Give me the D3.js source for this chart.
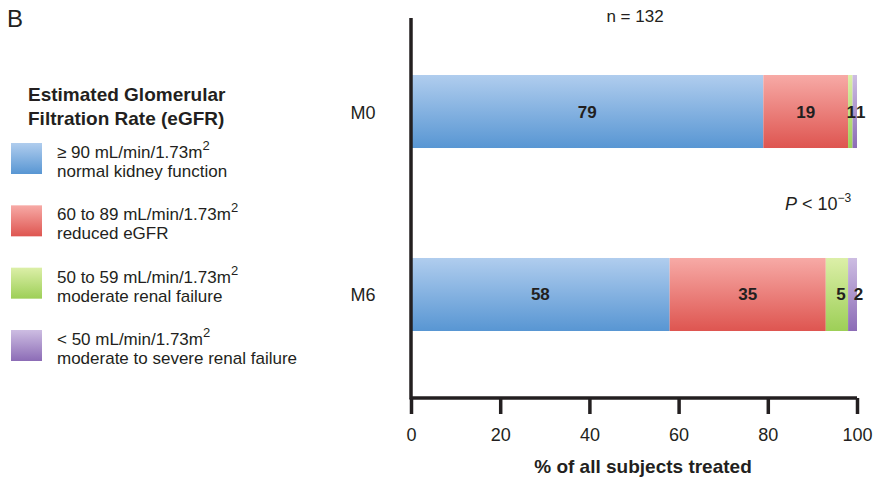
<!DOCTYPE html>
<html>
<head>
<meta charset="utf-8">
<script src="https://cdn.jsdelivr.net/npm/d3@7"></script>
<style>
  body{margin:0;background:#fff;}
  text{font-family:"Liberation Sans",Arial,sans-serif;fill:#231f20;}
</style>
</head>
<body>
<div id="chart"></div>
<script>
// data
var timepoints = ["M0","M6"];
var normal   = [79,58];
var reduced  = [19,35];
var moderate = [1,5];
var severe   = [1,2];
var xTicks = [0,20,40,60,80,100];
var legendTop = ["\u2265 90 mL/min/1.73m","60 to 89 mL/min/1.73m","50 to 59 mL/min/1.73m","< 50 mL/min/1.73m"];
var legendSub = ["normal kidney function","reduced eGFR","moderate renal failure","moderate to severe renal failure"];

var keys = ["normal","reduced","moderate","severe"];
var grads = [["#b0cdee","#5896d3"],["#f7aaa6","#de5550"],["#dcefa8","#9dcf57"],["#cdbde2","#8c6cb6"]];

var rows = timepoints.map(function(t,i){
  return {tp:t, normal:normal[i], reduced:reduced[i], moderate:moderate[i], severe:severe[i]};
});

var W = 875, H = 481;
var svg = d3.select("#chart").append("svg").attr("width",W).attr("height",H);

var defs = svg.append("defs");
keys.forEach(function(k,i){
  var g = defs.append("linearGradient").attr("id","g_"+k)
    .attr("x1",0).attr("y1",0).attr("x2",0).attr("y2",1);
  g.append("stop").attr("offset","0%").attr("stop-color",grads[i][0]);
  g.append("stop").attr("offset","100%").attr("stop-color",grads[i][1]);
});

var x = d3.scaleLinear().domain([0,100]).range([411,857]);
// band 73px, step 183px, first band at y=75
var y = d3.scaleBand().domain(timepoints).range([20.1,385.9]).paddingInner(0.601).paddingOuter(0.3);

var stack = d3.stack().keys(keys)(rows);

var layers = svg.selectAll(".layer").data(stack).enter().append("g")
  .attr("fill",function(d){ return "url(#g_"+d.key+")"; });

layers.selectAll("rect").data(function(d){ return d; }).enter().append("rect")
  .attr("x",function(d){ return x(d[0]); })
  .attr("y",function(d){ return y(d.data.tp); })
  .attr("width",function(d){ return x(d[1])-x(d[0]); })
  .attr("height",y.bandwidth());

// value labels (the thin segments get nudged right so the digits don't collide)
stack.forEach(function(s){
  s.forEach(function(d){
    var v = d[1]-d[0];
    var cx = (x(d[0])+x(d[1]))/2;
    if(s.key=="moderate") cx += (v<=1 ? 1 : 4);
    if(s.key=="severe") cx += 6;
    svg.append("text")
      .attr("x", cx)
      .attr("y", y(d.data.tp)+y.bandwidth()/2+6)
      .attr("text-anchor","middle")
      .style("font-size","17px").style("font-weight","bold")
      .text(v);
  });
});

// axes
var xAxis = svg.append("g").attr("transform","translate(0,398)")
  .call(d3.axisBottom(x).tickValues(xTicks).tickSize(16).tickPadding(14));
xAxis.select(".domain").attr("stroke","#231f20").attr("stroke-width",3.5).attr("d","M411,0H857");
xAxis.selectAll(".tick line").attr("stroke","#231f20").attr("stroke-width",3.5);
xAxis.selectAll(".tick text").style("font-size","18px").attr("fill","#231f20")
  .style("font-family","'Liberation Sans',Arial,sans-serif");

svg.append("line").attr("x1",411).attr("x2",411).attr("y1",18).attr("y2",399.5)
  .attr("stroke","#231f20").attr("stroke-width",3.5);

svg.selectAll(".tp").data(timepoints).enter().append("text")
  .attr("x",363).attr("y",function(d){ return y(d)+y.bandwidth()/2+7; })
  .attr("text-anchor","middle").style("font-size","18px").text(function(d){ return d; });

svg.append("text").attr("x",643).attr("y",473).attr("text-anchor","middle")
  .style("font-size","19px").style("font-weight","bold").text("% of all subjects treated");

svg.append("text").attr("x",635).attr("y",22).attr("text-anchor","middle")
  .style("font-size","17px").text("n = 132");

var p = svg.append("text").attr("x",785).attr("y",210).style("font-size","18px");
p.append("tspan").style("font-style","italic").text("P");
p.append("tspan").text(" < 10");
p.append("tspan").attr("dy",-8).style("font-size","12px").text("\u22123");

svg.append("text").attr("x",7).attr("y",27).style("font-size","24px").text("B");

// legend
svg.append("text").attr("x",28).attr("y",101).style("font-size","19px").style("font-weight","bold")
  .text("Estimated Glomerular");
svg.append("text").attr("x",28).attr("y",125).style("font-size","19px").style("font-weight","bold")
  .text("Filtration Rate (eGFR)");

var ly = d3.scaleLinear().domain([0,3]).range([143,330]);
var leg = svg.selectAll(".leg").data(keys).enter().append("g")
  .attr("transform",function(d,i){ return "translate(0,"+ly(i)+")"; });
leg.append("rect").attr("x",11).attr("y",0).attr("width",31).attr("height",31)
  .attr("fill",function(d){ return "url(#g_"+d+")"; });
var t1 = leg.append("text").attr("x",57).attr("y",15).style("font-size","17px");
t1.append("tspan").text(function(d,i){ return legendTop[i]; });
t1.append("tspan").attr("dy",-8).style("font-size","13px").text("2");
leg.append("text").attr("x",57).attr("y",34).style("font-size","17px")
  .text(function(d,i){ return legendSub[i]; });
</script>
</body>
</html>
